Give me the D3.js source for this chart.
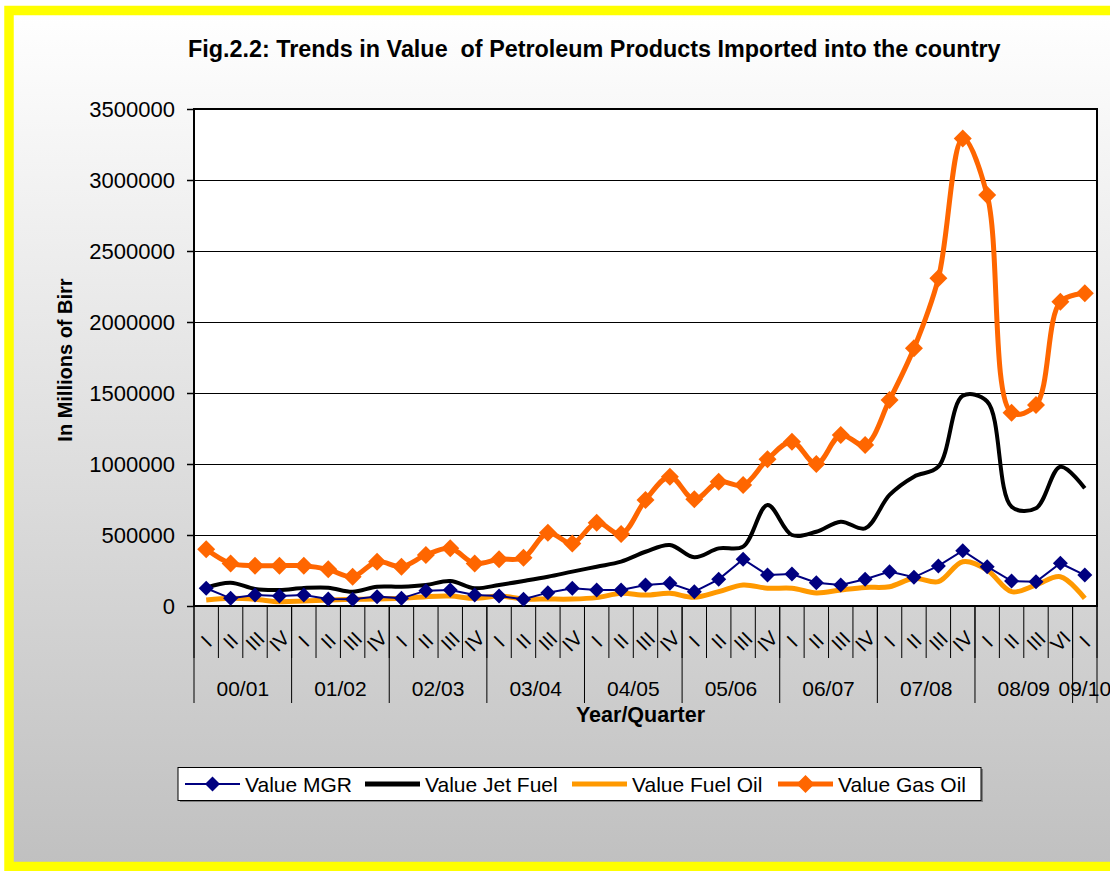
<!DOCTYPE html>
<html><head><meta charset="utf-8">
<script src="https://cdn.jsdelivr.net/npm/d3@7"></script>
<style>
html,body{margin:0;padding:0;background:#fff;}
svg{display:block;font-family:"Liberation Sans",Arial,sans-serif;}
</style></head>
<body>
<svg id="chart" width="1110" height="871"></svg>
<script>
// ---- data ----
const quarterLabels = ["I","II","III","IV","I","II","III","IV","I","II","III","IV","I","II","III","IV","I","II","III","IV","I","II","III","IV","I","II","III","IV","I","II","III","IV","I","II","III","VI","I"];
const yearLabels = ["00/01","01/02","02/03","03/04","04/05","05/06","06/07","07/08","08/09","09/10"];
const yearSizes = [4,4,4,4,4,4,4,4,4,1];
const valueMGR = [125000,54000,77000,70000,77000,49000,47000,66000,54000,108000,113000,77000,70000,48000,94000,125000,113000,113000,148000,160000,101000,188000,329000,218000,225000,164000,148000,188000,242000,202000,282000,389000,277000,176000,171000,301000,218000];
const valueJetFuel = [130000,164000,120000,113000,127000,129000,100000,136000,136000,148000,176000,125000,148000,176000,206000,242000,277000,312000,382000,430000,343000,406000,418000,711000,500000,523000,594000,547000,782000,911000,981000,1480000,1440000,699000,688000,981000,829000];
const valueFuelOil = [42000,54000,47000,30000,35000,42000,47000,49000,54000,66000,70000,54000,70000,50000,49000,49000,59000,89000,77000,89000,61000,101000,148000,125000,125000,92000,113000,131000,136000,195000,171000,312000,253000,101000,148000,206000,54000];
const valueGasOil = [400000,300000,284000,284000,284000,258000,206000,312000,277000,359000,406000,300000,329000,340000,516000,441000,587000,507000,746000,911000,751000,875000,852000,1033000,1157000,1000000,1204000,1134000,1451000,1815000,2308000,3293000,2894000,1361000,1415000,2143000,2202000];
const yTicks = [0,500000,1000000,1500000,2000000,2500000,3000000,3500000];
const seriesNames = ["Value MGR","Value Jet Fuel","Value Fuel Oil","Value Gas Oil"];

const svg = d3.select("#chart");
const FONT = '"Liberation Sans",Arial,sans-serif';

// background gradient + yellow frame
const defs = svg.append("defs");
const grad = defs.append("linearGradient").attr("id","bg").attr("x1",0).attr("y1",0).attr("x2",0).attr("y2",1);
grad.append("stop").attr("offset","0%").attr("stop-color","#ffffff");
grad.append("stop").attr("offset","100%").attr("stop-color","#c0c0c0");
svg.append("rect").attr("x",9).attr("y",10.5).attr("width",1115).attr("height",856)
  .attr("fill","url(#bg)").attr("stroke","#ffff00").attr("stroke-width",9.5);

const L=194, R=1097, T=109, B=606;
const x = d3.scaleBand().domain(d3.range(quarterLabels.length)).range([L,R]).padding(0);
const cx = i => x(i) + x.bandwidth()/2;
const y = d3.scaleLinear().domain([0,3500000]).range([B,T]);

// plot area
svg.append("rect").attr("x",L).attr("y",T).attr("width",R-L).attr("height",B-T).attr("fill","#fff");

// gridlines
svg.append("g").attr("transform",`translate(${L},0)`)
  .call(d3.axisLeft(y).tickValues(yTicks).tickSize(-(R-L)).tickFormat(""))
  .call(g=>g.select(".domain").remove())
  .call(g=>g.selectAll("line").attr("stroke","#000").attr("stroke-width",1));

// y axis
const yAxis = svg.append("g").attr("transform",`translate(${L},0)`)
  .call(d3.axisLeft(y).tickValues(yTicks).tickSize(7).tickPadding(12).tickFormat(d3.format("d")));
yAxis.select(".domain").remove();
yAxis.selectAll("line").attr("stroke","#000").attr("stroke-width",1.5);
yAxis.selectAll("text").attr("font-family",FONT).attr("font-size",22).attr("fill","#000");

// plot border
svg.append("rect").attr("x",L).attr("y",T).attr("width",R-L).attr("height",B-T)
  .attr("fill","none").attr("stroke","#000").attr("stroke-width",2);

// x axis multi-level
const xg = svg.append("g");
d3.range(quarterLabels.length+1).forEach(i=>{
  const xx = i<quarterLabels.length ? x(i) : R;
  xg.append("line").attr("x1",xx).attr("x2",xx).attr("y1",B).attr("y2",658).attr("stroke","#000").attr("stroke-width",1);
});
let start=0;
yearSizes.forEach((n,k)=>{
  const x0 = x(start), x1 = (start+n<quarterLabels.length)? x(start+n) : R;
  xg.append("line").attr("x1",x0).attr("x2",x0).attr("y1",B).attr("y2",703).attr("stroke","#000").attr("stroke-width",1);
  if(k===yearSizes.length-1) xg.append("line").attr("x1",x1).attr("x2",x1).attr("y1",B).attr("y2",703).attr("stroke","#000").attr("stroke-width",1);
  xg.append("text").attr("x",(x0+x1)/2).attr("y",696).attr("text-anchor","middle")
    .attr("font-family",FONT).attr("font-size",21).text(yearLabels[k]);
  start+=n;
});
quarterLabels.forEach((q,i)=>{
  xg.append("text").attr("transform",`translate(${cx(i)},641) rotate(-45)`)
    .attr("text-anchor","middle").attr("dominant-baseline","central")
    .attr("font-family",FONT).attr("font-size",20).text(q);
});

// lines
const smooth = d3.line().x((d,i)=>cx(i)).y(d=>y(d)).curve(d3.curveCatmullRom.alpha(0.5));
const straight = d3.line().x((d,i)=>cx(i)).y(d=>y(d));
const diamond = (s)=>`M0,${-s}L${s},0L0,${s}L${-s},0Z`;

svg.append("path").attr("d",smooth(valueFuelOil)).attr("fill","none").attr("stroke","#ff9900").attr("stroke-width",5).attr("stroke-linejoin","round");
svg.append("path").attr("d",smooth(valueJetFuel)).attr("fill","none").attr("stroke","#000").attr("stroke-width",4).attr("stroke-linejoin","round");
svg.append("path").attr("d",straight(valueMGR)).attr("fill","none").attr("stroke","#000080").attr("stroke-width",2);
svg.selectAll(".mgr").data(valueMGR).enter().append("path")
  .attr("transform",(d,i)=>`translate(${cx(i)},${y(d)})`).attr("d",diamond(7.5)).attr("fill","#000080");
svg.append("path").attr("d",smooth(valueGasOil)).attr("fill","none").attr("stroke","#ff6600").attr("stroke-width",5).attr("stroke-linejoin","round");
svg.selectAll(".gas").data(valueGasOil).enter().append("path")
  .attr("transform",(d,i)=>`translate(${cx(i)},${y(d)})`).attr("d",diamond(9)).attr("fill","#ff6600");

// titles
const title = svg.append("text").attr("y",57).attr("font-family",FONT).attr("font-weight","bold")
  .attr("font-size",20).style("white-space","pre")
  .text("Fig.2.2: Trends in Value  of Petroleum Products Imported into the country");
const tw = title.node().getComputedTextLength();
title.attr("font-size",20*813/tw).attr("x",188);

svg.append("text").attr("x",640.5).attr("y",722).attr("text-anchor","middle")
  .attr("font-family",FONT).attr("font-weight","bold").attr("font-size",21.5).text("Year/Quarter");
svg.append("text").attr("transform","translate(72,360) rotate(-90)").attr("text-anchor","middle")
  .attr("font-family",FONT).attr("font-weight","bold").attr("font-size",20).text("In Millions of Birr");

// legend
const lg = svg.append("g");
lg.append("rect").attr("x",180).attr("y",769).attr("width",803).attr("height",33).attr("fill","#808080");
lg.append("rect").attr("x",178).attr("y",767.5).attr("width",803).attr("height",33).attr("fill","#fff").attr("stroke","#000").attr("stroke-width",1);
const legX = [185,365,572,778];
const legColors = ["#000080","#000","#ff9900","#ff6600"];
const legWidths = [2,5,5,5];
seriesNames.forEach((nm,k)=>{
  const x0=legX[k], ly=784;
  lg.append("line").attr("x1",x0).attr("x2",x0+55).attr("y1",ly).attr("y2",ly)
    .attr("stroke",legColors[k]).attr("stroke-width",legWidths[k]);
  if(k===0) lg.append("path").attr("transform",`translate(${x0+27.5},${ly})`).attr("d",diamond(7.5)).attr("fill",legColors[k]);
  if(k===3) lg.append("path").attr("transform",`translate(${x0+27.5},${ly})`).attr("d",diamond(9)).attr("fill",legColors[k]);
  lg.append("text").attr("x",x0+60).attr("y",ly).attr("dy","0.36em")
    .attr("font-family",FONT).attr("font-size",21).text(nm);
});
</script>
</body></html>
